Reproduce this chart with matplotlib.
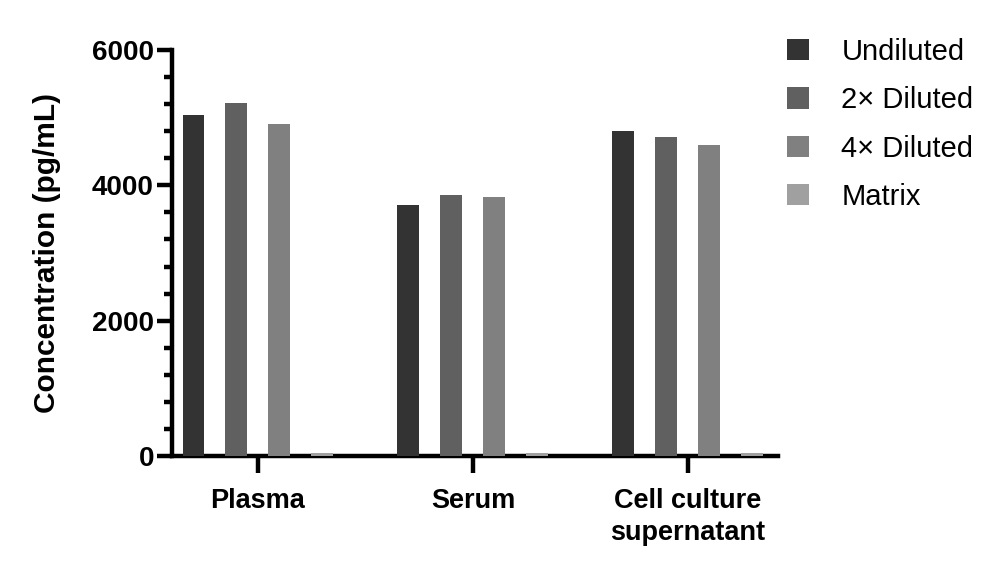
import numpy as np
from matplotlib import pyplot as plt
from matplotlib.ticker import MultipleLocator

plt.rcParams['font.family'] = ['Liberation Sans', 'DejaVu Sans']

groups = ['Plasma', 'Serum', 'Cell culture\nsupernatant']
series = ['Undiluted', '2\u00d7 Diluted', '4\u00d7 Diluted', 'Matrix']
undiluted = [5040, 3705, 4800]
diluted_2x = [5210, 3850, 4720]
diluted_4x = [4900, 3825, 4590]
matrix = [45, 45, 45]
colors = ['#333333', '#606060', '#808080', '#a0a0a0']

fig = plt.figure(figsize=(10.01, 5.70), dpi=100)
ax = fig.add_axes([0.1718, 0.2, 0.6055, 0.7123])

x = np.arange(len(groups))
width = 0.102
offsets = [-0.3, -0.1, 0.1, 0.3]
for vals, off, col, lab in zip([undiluted, diluted_2x, diluted_4x, matrix], offsets, colors, series):
    ax.bar(x + off, vals, width, color=col, label=lab, zorder=1)

ax.set_xlim(-0.4, 2.42)
ax.set_ylim(0, 6000)
ax.yaxis.set_major_locator(MultipleLocator(2000))
ax.yaxis.set_minor_locator(MultipleLocator(400))
ax.set_xticks(x)
ax.set_xticklabels(groups, fontsize=19.5, fontweight='bold', linespacing=1.3)
for lbl in ax.get_yticklabels():
    lbl.set_fontweight('bold')
ax.tick_params(axis='y', which='major', labelsize=20, length=11, width=3.2, pad=2)
ax.tick_params(axis='y', which='minor', length=6, width=3.2)
ax.tick_params(axis='x', which='major', length=12, width=3.2, pad=11)

for side in ['top', 'right']:
    ax.spines[side].set_visible(False)
for side in ['left', 'bottom']:
    ax.spines[side].set_linewidth(3.2)
    ax.spines[side].set_zorder(0.5)

ax.set_ylabel('Concentration (pg/mL)', fontsize=21.5, fontweight='bold', labelpad=22)

ax.legend(loc='upper left', bbox_to_anchor=(0.972, 1.095), frameon=False, fontsize=21,
          handlelength=0.75, handleheight=0.75, handletextpad=1.1, labelspacing=0.7,
          borderaxespad=0.5)

fig.savefig('out.png', dpi=100)
